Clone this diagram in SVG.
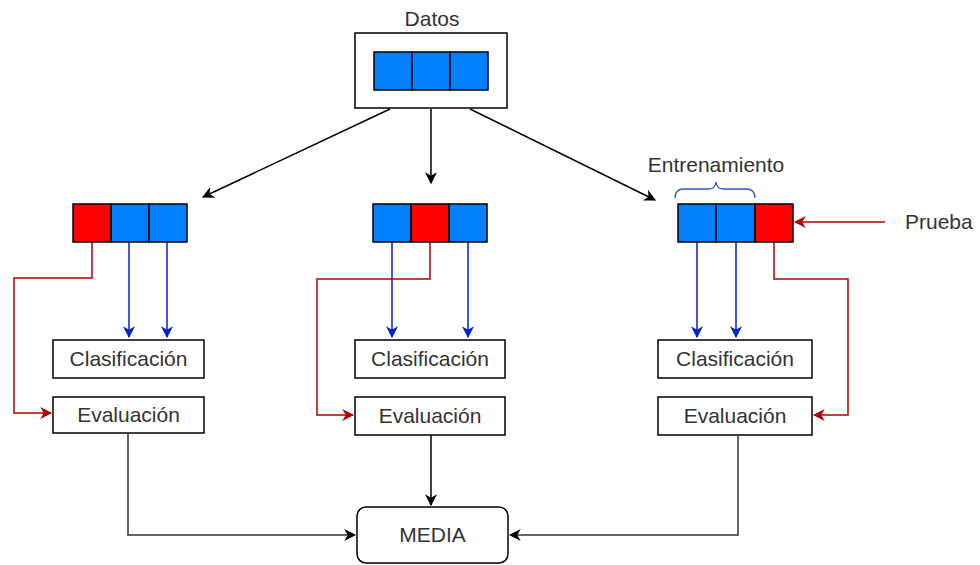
<svg xmlns="http://www.w3.org/2000/svg" width="980" height="565" viewBox="0 0 980 565">
  <defs>
    <marker id="arrowBlack" viewBox="0 0 10 10" refX="9" refY="5" markerWidth="12" markerHeight="12" markerUnits="userSpaceOnUse" orient="auto">
      <path d="M0,0 L10,5 L0,10 L3,5 Z" fill="#000"/>
    </marker>
    <marker id="arrowBlue" viewBox="0 0 10 10" refX="9" refY="5" markerWidth="12" markerHeight="12" markerUnits="userSpaceOnUse" orient="auto">
      <path d="M0,0 L10,5 L0,10 L3,5 Z" fill="#0022CC"/>
    </marker>
    <marker id="arrowRed" viewBox="0 0 10 10" refX="9" refY="5" markerWidth="12" markerHeight="12" markerUnits="userSpaceOnUse" orient="auto">
      <path d="M0,0 L10,5 L0,10 L3,5 Z" fill="#B20000"/>
    </marker>
  </defs>
  <style>
    .box { fill: #fff; stroke: #000; stroke-width: 1.5; }
    .train { fill: #007FFF; stroke: #000; stroke-width: 1.5; }
    .test { fill: #FF0000; stroke: #000; stroke-width: 1.5; }
    .lbl { font-family: "Liberation Sans", Arial, sans-serif; font-size: 21px; fill: #333; text-anchor: middle; }
    .black { fill: none; stroke: #000; stroke-width: 1.5; marker-end: url(#arrowBlack); }
    .gray { fill: none; stroke: #333; stroke-width: 1.5; marker-end: url(#arrowBlack); }
    .blue { fill: none; stroke: #0022CC; stroke-width: 1.5; marker-end: url(#arrowBlue); }
    .red { fill: none; stroke: #B20000; stroke-width: 1.5; marker-end: url(#arrowRed); }
  </style>

  <rect width="980" height="565" fill="#fff"/>

  <!-- Data set -->
  <g id="datos">
    <text class="lbl" x="432" y="26">Datos</text>
    <rect class="box" x="355" y="33" width="152" height="75"/>
    <rect class="train" x="374" y="52" width="38" height="38"/>
    <rect class="train" x="412" y="52" width="38" height="38"/>
    <rect class="train" x="450" y="52" width="38" height="38"/>
  </g>

  <!-- Fold 1 -->
  <g id="fold1">
    <rect class="test" x="73" y="204" width="38" height="38"/>
    <rect class="train" x="111" y="204" width="38" height="38"/>
    <rect class="train" x="149" y="204" width="38" height="38"/>
  </g>
  <g id="clasificacion1">
    <rect class="box" x="53" y="340" width="151" height="38"/>
    <text class="lbl" x="128.5" y="366">Clasificación</text>
  </g>
  <g id="evaluacion1">
    <rect class="box" x="53" y="397" width="151" height="36"/>
    <text class="lbl" x="128.5" y="422">Evaluación</text>
  </g>

  <!-- Fold 2 -->
  <g id="fold2">
    <rect class="train" x="373" y="204" width="38" height="38"/>
    <rect class="test" x="411" y="204" width="38" height="38"/>
    <rect class="train" x="449" y="204" width="38" height="38"/>
  </g>
  <g id="clasificacion2">
    <rect class="box" x="355" y="340" width="150" height="38"/>
    <text class="lbl" x="430" y="366">Clasificación</text>
  </g>
  <g id="evaluacion2">
    <rect class="box" x="355" y="397" width="150" height="38"/>
    <text class="lbl" x="430" y="423">Evaluación</text>
  </g>

  <!-- Fold 3 -->
  <g id="fold3">
    <rect class="train" x="678" y="204" width="38" height="38"/>
    <rect class="train" x="716" y="204" width="39" height="38"/>
    <rect class="test" x="755" y="204" width="38" height="38"/>
  </g>
  <g id="entrenamiento">
    <text class="lbl" x="716" y="172">Entrenamiento</text>
    <path d="M675,198 Q675,189 684,189 L709,189 Q715,189 716,182 Q717,189 723,189 L746,189 Q755,189 755,198" fill="none" stroke="#3355CC" stroke-width="1.3"/>
  </g>
  <g id="prueba">
    <text class="lbl" x="905" y="229" style="text-anchor:start">Prueba</text>
  </g>
  <g id="clasificacion3">
    <rect class="box" x="658" y="340" width="154" height="38"/>
    <text class="lbl" x="735" y="366">Clasificación</text>
  </g>
  <g id="evaluacion3">
    <rect class="box" x="658" y="397" width="154" height="38"/>
    <text class="lbl" x="735" y="423">Evaluación</text>
  </g>

  <!-- Mean -->
  <g id="media">
    <rect class="box" x="357" y="507" width="151" height="56" rx="9" ry="9"/>
    <text class="lbl" x="432.5" y="542">MEDIA</text>
  </g>

  <!-- Connectors -->
  <g id="connectors">
    <path class="black" d="M390,109 L203,197"/>
    <path class="black" d="M431,109 L431,183"/>
    <path class="black" d="M470,109 L655,200"/>

    <path class="blue" d="M129,242 L129,337"/>
    <path class="blue" d="M167,242 L167,337"/>
    <path class="blue" d="M392,242 L392,337"/>
    <path class="blue" d="M468,242 L468,337"/>
    <path class="blue" d="M697,242 L697,337"/>
    <path class="blue" d="M736,242 L736,337"/>

    <path class="red" d="M92,242 L92,278 L14,278 L14,413 L51,413"/>
    <path class="red" d="M430,242 L430,279 L317,279 L317,415 L353,415"/>
    <path class="red" d="M774,242 L774,279 L848,279 L848,415 L814,415"/>
    <path class="red" d="M885,222 L795,222"/>

    <path class="gray" d="M128,433 L128,535 L355,535"/>
    <path class="black" d="M431,435 L431,505"/>
    <path class="gray" d="M738,435 L738,535 L510,535"/>
  </g>
</svg>
